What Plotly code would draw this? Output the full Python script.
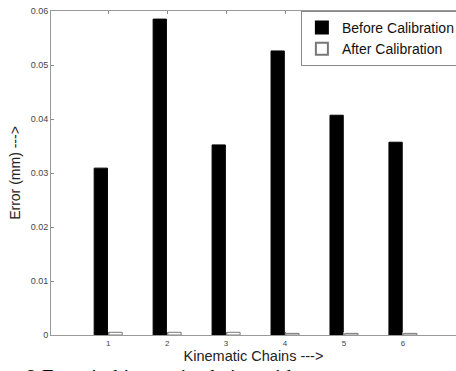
import plotly.graph_objects as go

chains = [1, 2, 3, 4, 5, 6]
before_cal = [0.0309, 0.0585, 0.0352, 0.0526, 0.0407, 0.0357]
after_cal = [0.0005, 0.0005, 0.0005, 0.0003, 0.0003, 0.0003]
y_ticks = [0, 0.01, 0.02, 0.03, 0.04, 0.05, 0.06]
y_tick_labels = ["0", "0.01", "0.02", "0.03", "0.04", "0.05", "0.06"]

fig = go.Figure()
fig.add_trace(go.Bar(x=chains, y=before_cal, name="Before Calibration",
                     marker=dict(color="black", line=dict(color="black", width=1))))
fig.add_trace(go.Bar(x=chains, y=after_cal, name="After Calibration",
                     marker=dict(color="white", line=dict(color="#777", width=1))))

fig.update_layout(
    width=456, height=371,
    margin=dict(l=51, r=0, t=11, b=36, autoexpand=False),
    paper_bgcolor="white", plot_bgcolor="white",
    barmode="group", bargap=0.5, bargroupgap=0.1,
    font=dict(family="Arial, Liberation Sans, sans-serif", color="#222"),
    showlegend=True,
    legend=dict(x=0.617, y=1, xanchor="left", yanchor="top",
                bgcolor="white", bordercolor="#888", borderwidth=1,
                font=dict(size=14, color="#111"),
                tracegroupgap=0, itemsizing="constant", itemwidth=30),
    xaxis=dict(range=[0.03, 6.9], tickvals=chains, ticktext=[str(c) for c in chains],
               tickfont=dict(size=8, color="#444"), ticks="inside", ticklen=3,
               tickcolor="#888", showline=True, linecolor="#999", linewidth=1,
               mirror="ticks", showgrid=False, zeroline=False,
               title=dict(text="Kinematic Chains --->", font=dict(size=14.5, color="#222"),
                          standoff=1)),
    yaxis=dict(range=[0, 0.06], tickvals=y_ticks, ticktext=y_tick_labels,
               tickfont=dict(size=9, color="#444"), ticks="inside", ticklen=3,
               tickcolor="#888", showline=True, linecolor="#999", linewidth=1,
               mirror=False, showgrid=False, zeroline=False,
               title=dict(text="Error (mm) --->", font=dict(size=14, color="#222"),
                          standoff=6)),
)

fig.add_annotation(text="9 Error in kinematic chains with", xref="paper", yref="paper",
                   x=-0.066, y=-0.087, xanchor="left", yanchor="top", showarrow=False,
                   font=dict(family="Liberation Serif, Times New Roman, serif", size=21, color="black"))

fig.write_html("out.html", config={"displayModeBar": False},
               post_script="document.body.style.margin='0';document.body.style.overflow='hidden';")
